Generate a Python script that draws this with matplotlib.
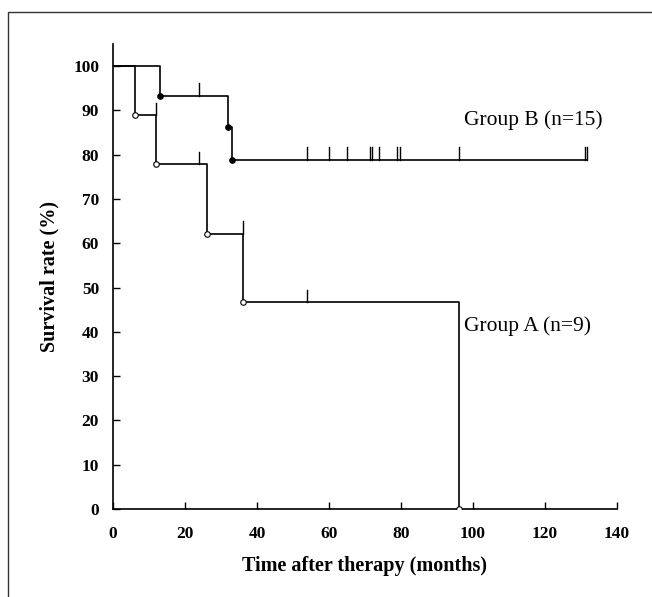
import matplotlib.pyplot as plt
from matplotlib.patches import Rectangle

plt.rcParams['font.family'] = ['Liberation Serif', 'DejaVu Serif']

# Group A (n=9): step times and survival (%)
a_time = [0, 6, 12, 26, 36, 96]
a_surv = [100, 88.9, 77.8, 62.2, 46.7, 0]
a_end = 96
a_cens_time = [12, 24, 36, 54]
a_cens_level = [88.9, 77.8, 62.2, 46.7]

# Group B (n=15)
b_time = [0, 13, 32, 33]
b_surv = [100, 93.3, 86.2, 78.9]
b_end = 131.7
b_cens_time = [24, 54, 60, 65, 71.3, 72, 74, 79, 79.6, 96, 131.2, 131.7]
b_cens_level = [93.3, 78.9, 78.9, 78.9, 78.9, 78.9, 78.9, 78.9, 78.9, 78.9, 78.9, 78.9]

xticks = [0, 20, 40, 60, 80, 100, 120, 140]
yticks = [0, 10, 20, 30, 40, 50, 60, 70, 80, 90, 100]


def km(ax, t, s, end, ct, cl, face):
    xs = t + [end]
    ys = s + [s[-1]]
    ax.step(xs, ys, where='post', color='black', lw=1.2, zorder=2)
    ax.plot(t[1:], s[1:], 'o', ms=4, mfc=face, mec='black', mew=0.8, zorder=3)
    for x, y in zip(ct, cl):
        ax.plot([x, x], [y, y + 2.8], color='black', lw=1.0, zorder=2)


fig = plt.figure(figsize=(6.52, 5.97), dpi=100)
fig.patches.append(Rectangle((8 / 652, -0.1), 1.2, 1 - 12 / 597 + 0.1,
                             transform=fig.transFigure, fill=False,
                             edgecolor='#333333', lw=1.0))
ax = fig.add_axes([113 / 652, 88 / 597, 504 / 652, 465 / 597])

km(ax, b_time, b_surv, b_end, b_cens_time, b_cens_level, 'black')
km(ax, a_time, a_surv, a_end, a_cens_time, a_cens_level, 'white')

ax.text(97.4, 87.7, 'Group B (n=15)', fontsize=15.5, va='center', ha='left')
ax.text(97.4, 41.4, 'Group A (n=9)', fontsize=15.5, va='center', ha='left')

ax.set_xlim(0, 140)
ax.set_ylim(0, 105)
ax.set_xticks(xticks)
ax.set_yticks(yticks)
ax.tick_params(direction='in', length=5, width=1, labelsize=12.5, pad=10)
ax.tick_params(axis='x', pad=12)
for lab in ax.get_xticklabels() + ax.get_yticklabels():
    lab.set_fontweight('bold')
ax.spines['top'].set_visible(False)
ax.spines['right'].set_visible(False)
ax.spines['left'].set_linewidth(1.2)
ax.spines['bottom'].set_linewidth(1.2)
ax.set_xlabel('Time after therapy (months)', fontsize=14.5, fontweight='bold', labelpad=10)
ax.set_ylabel('Survival rate (%)', fontsize=14.5, fontweight='bold', labelpad=10)

fig.savefig('out.png', dpi=100)
